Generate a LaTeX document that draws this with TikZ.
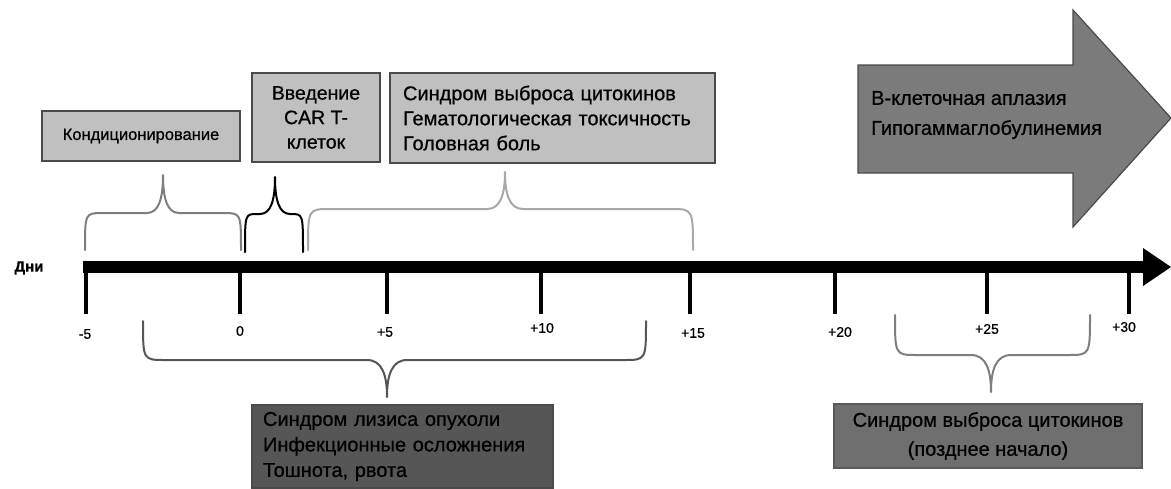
\documentclass[tikz,border=0pt]{standalone}
\usepackage{fontspec}
\setmainfont{Liberation Sans}[FakeBold=0.7]
\definecolor{boxlight}{HTML}{C0C0C0}
\definecolor{boxborder}{HTML}{4A4A4A}
\definecolor{boxdark}{HTML}{565656}
\definecolor{boxmid}{HTML}{6F6F6F}
\definecolor{arrowgray}{HTML}{7B7B7B}
\definecolor{brgray}{HTML}{7E7E7E}
\definecolor{brlight}{HTML}{A8A8A8}
\definecolor{brdark}{HTML}{555555}
% #1 style, #2 x1, #3 x2, #4 xtip, #5 yend, #6 yflat, #7 ytip, #8 corner, #9 cusp half width
\newcommand{\tlbrace}[9]{%
  \draw[#1] (#2,#5) .. controls (#2,#6) .. (#2+#8,#6) -- (#4-#9,#6)
    .. controls (#4-#9*0.25,#6) and (#4,#6+#7*0.4-#6*0.4) .. (#4,#7)
    .. controls (#4,#6+#7*0.4-#6*0.4) and (#4+#9*0.25,#6) .. (#4+#9,#6)
    -- (#3-#8,#6) .. controls (#3,#6) .. (#3,#5);}
\begin{document}
\begin{tikzpicture}[x=1pt,y=-1pt,
  box/.style={draw=boxborder, line width=1.5pt, inner sep=0pt, outer sep=0pt},
  lightbox/.style={box, fill=boxlight},
  bigtext/.style={font=\fontsize{20}{25}\selectfont},
  ticklab/.style={font=\fontsize{14}{16}\selectfont, inner sep=0pt},
  tickline/.style={line width=4.5pt},
  brstyle/.style={line width=2pt, line cap=round, line join=round}
]
\useasboundingbox (0,0) rectangle (1171,488);

% axis
\coordinate (axL) at (83,267);
\coordinate (axR) at (1144,267);
\draw[line width=12pt] (axL) -- (axR);
\fill (1143,248) -- (1171,267) -- (1143,286) -- cycle;
\node[font=\bfseries\fontsize{15}{17}\selectfont, inner sep=0pt] (dni) at (29,268) {Дни};

% ticks
\foreach \x in {86, 240, 387, 541, 690, 835, 987, 1129}{
  \draw[tickline] (\x,267) -- (\x,314);
}
\node[ticklab] (t1) at (85,334) {-5};
\node[ticklab] (t2) at (240,331) {0};
\node[ticklab] (t3) at (385,332) {+5};
\node[ticklab] (t4) at (542,328) {+10};
\node[ticklab] (t5) at (693,333) {+15};
\node[ticklab] (t6) at (840,332) {+20};
\node[ticklab] (t7) at (987,329) {+25};
\node[ticklab] (t8) at (1124,327) {+30};

% top boxes
\node[lightbox, minimum width=198pt, minimum height=50pt, font=\fontsize{16.5}{20}\selectfont] (kond) at (141,136) {Кондиционирование};
\node[lightbox, minimum width=128pt, minimum height=89pt, align=center, font=\fontsize{19.5}{24.5}\selectfont] (car) at (316,117.5) {Введение\\CAR T-\\клеток};
\node[lightbox, minimum width=325pt, minimum height=90pt, inner xsep=13pt, text width=299pt, align=left, bigtext] (crs) at (552.5,118) {Синдром выброса цитокинов\\Гематологическая токсичность\\Головная боль};

% big arrow
\fill[arrowgray] (858,65) -- (1073,65) -- (1073,10) -- (1171,118) -- (1073,227) -- (1073,173) -- (858,173) -- cycle;
\draw[boxborder, line width=1.2pt] (858,65) -- (1073,65) -- (1073,10) -- (1171,118) -- (1073,227) -- (1073,173) -- (858,173) -- cycle;
\node[anchor=west, align=left, inner sep=0pt, font=\fontsize{20}{30}\selectfont] (late) at (871,115) {B-клеточная аплазия\\Гипогаммаглобулинемия};

% bottom boxes
\node[box, fill=boxdark, minimum width=301pt, minimum height=83pt, inner xsep=11pt, text width=279pt, align=left, font=\fontsize{20}{25.5}\selectfont] (tls) at (402.5,446.5) {Синдром лизиса опухоли\\Инфекционные осложнения\\Тошнота, рвота};
\node[box, fill=boxmid, draw=boxmid!80!black, minimum width=308pt, minimum height=64pt, align=center, font=\fontsize{20}{29}\selectfont] (crs2) at (988,436) {Синдром выброса цитокинов\\(позднее начало)};

% braces
\tlbrace{brstyle, brgray}{85}{241}{163}{250}{213}{175}{18}{16}
\tlbrace{brstyle, black}{245}{303}{275}{252}{214}{177}{12}{15}
\tlbrace{brstyle, brlight}{308}{693}{505}{250}{209}{172}{22}{18}
\tlbrace{brstyle, brdark}{143}{646}{387}{321}{360}{397}{22}{20}
\tlbrace{brstyle, brgray}{895}{1090}{991}{315}{355}{392}{22}{20}
\end{tikzpicture}
\end{document}
